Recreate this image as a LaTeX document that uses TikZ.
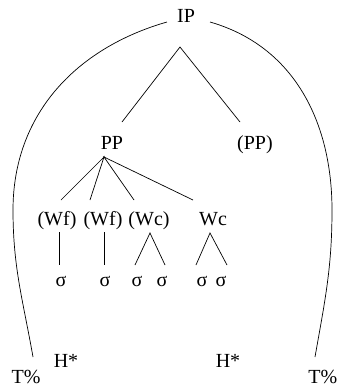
\documentclass[tikz,border=0pt]{standalone}
\usepackage{fontspec}
\setmainfont{Liberation Serif}
\begin{document}
\begin{tikzpicture}[x=1pt,y=1pt,
  lbl/.style={anchor=base,inner sep=0pt,font=\fontsize{20}{23}\selectfont},
  edge/.style={line width=0.7pt,black}]
\useasboundingbox (0,0) rectangle (338,-389);
% labels
\node[lbl] (IP) at (186,-22) {IP};
\node[lbl] (PP) at (112,-149) {PP};
\node[lbl] (PPo) at (255,-149) {(PP)};
\node[lbl] (Wf1) at (57,-225) {(Wf)};
\node[lbl] (Wf2) at (103,-225) {(Wf)};
\node[lbl] (Wc1) at (149,-225) {(Wc)};
\node[lbl] (Wc2) at (213,-225) {Wc};
\node[lbl] (s1) at (61,-286) {σ};
\node[lbl] (s2) at (105,-286) {σ};
\node[lbl] (s3) at (137,-286) {σ};
\node[lbl] (s4) at (162,-286) {σ};
\node[lbl] (s5) at (202,-286) {σ};
\node[lbl] (s6) at (221,-286) {σ};
\node[lbl] (H1) at (66,-367) {H*};
\node[lbl] (H2) at (228,-367) {H*};
\node[lbl] (T1) at (26,-383) {T\%};
\node[lbl,anchor=base east] (T2) at (337.5,-383) {T\%};
% connector points
\coordinate (ipA) at (180,-47);
\coordinate (ppL) at (122,-122);
\coordinate (ppR) at (240,-122);
\coordinate (ppA) at (104,-157);
\coordinate (w1) at (61,-200);
\coordinate (w2) at (90,-200);
\coordinate (w3) at (134,-200);
\coordinate (w4) at (193,-200);
\coordinate (v1t) at (59,-232);
\coordinate (v1b) at (59,-265);
\coordinate (v2t) at (104,-232);
\coordinate (v2b) at (104,-265);
\coordinate (t1a) at (150,-233);
\coordinate (t1l) at (135,-265);
\coordinate (t1r) at (165,-265);
\coordinate (t2a) at (210,-233);
\coordinate (t2l) at (196,-265);
\coordinate (t2r) at (227,-265);
\coordinate (aL0) at (167,-22);
\coordinate (aL1) at (13,-210);
\coordinate (aL2) at (33,-357);
\coordinate (aR0) at (210,-22);
\coordinate (aR1) at (332,-210);
\coordinate (aR2) at (315,-357);
% tree
\draw[edge] (ppL) -- (ipA) -- (ppR);
\draw[edge] (w1) -- (ppA) -- (w2);
\draw[edge] (w3) -- (ppA) -- (w4);
\draw[edge] (v1t) -- (v1b);
\draw[edge] (v2t) -- (v2b);
\draw[edge] (t1l) -- (t1a) -- (t1r);
\draw[edge] (t2l) -- (t2a) -- (t2r);
% arcs
\draw[edge] (aL0) to[out=196,in=90] (aL1) to[out=-90,in=100] (aL2);
\draw[edge] (aR0) to[out=-16,in=90] (aR1) to[out=-90,in=80] (aR2);
\end{tikzpicture}
\end{document}
